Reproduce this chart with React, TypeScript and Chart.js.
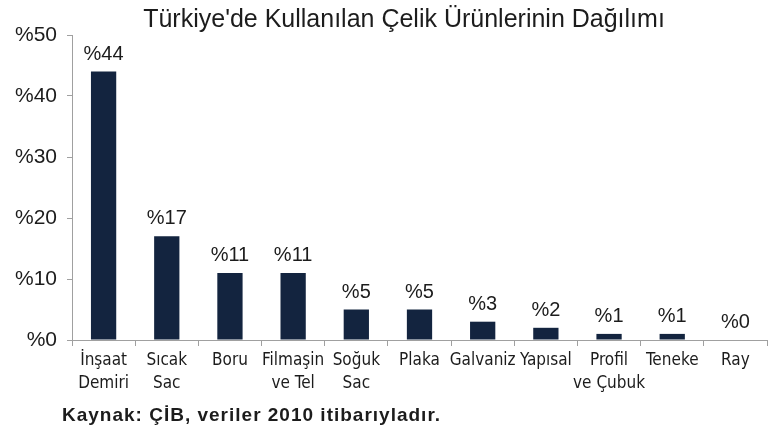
import React, { useEffect, useRef } from "react";
import { Chart, registerables } from "chart.js";

Chart.register(...registerables);

const categories: string[][] = [
  ["İnşaat", "Demiri"],
  ["Sıcak", "Sac"],
  ["Boru"],
  ["Filmaşin", "ve Tel"],
  ["Soğuk", "Sac"],
  ["Plaka"],
  ["Galvaniz"],
  ["Yapısal"],
  ["Profil", "ve Çubuk"],
  ["Teneke"],
  ["Ray"],
];
const shares: number[] = [44, 17, 11, 11, 5, 5, 3, 2, 1, 1, 0];
const shareLabels: string[] = ["%44", "%17", "%11", "%11", "%5", "%5", "%3", "%2", "%1", "%1", "%0"];
const title = "Türkiye'de Kullanılan Çelik Ürünlerinin Dağılımı";
const footer = "Kaynak: ÇİB, veriler 2010 itibarıyladır.";

const BAR = "#13243f";
const TEXT = "#1c1c1c";
const AXIS = "#a0a0a0";

export default function App() {
  const ref = useRef<HTMLCanvasElement | null>(null);
  useEffect(() => {
    document.body.style.margin = "0";
    const canvas = ref.current!;
    const textPlugin = {
      id: "texts",
      afterDatasetsDraw(chart: any) {
        const ctx = chart.ctx;
        ctx.save();
        ctx.fillStyle = TEXT;
        ctx.font = "20px 'Liberation Sans', Arial, sans-serif";
        ctx.textAlign = "center";
        ctx.textBaseline = "alphabetic";
        const meta = chart.getDatasetMeta(0);
        meta.data.forEach((bar: any, i: number) => {
          ctx.fillText(shareLabels[i], bar.x, bar.y - 12);
        });
        ctx.font = "25px 'Liberation Sans', Arial, sans-serif";
        ctx.fillText(title, 404, 27);
        ctx.textAlign = "left";
        ctx.font = "bold 19px 'Liberation Sans', Arial, sans-serif";
        try {
          (ctx as any).letterSpacing = "1px";
        } catch (e) {}
        ctx.fillText(footer, 62, 421);
        ctx.restore();
      },
    };
    const chart = new Chart(canvas, {
      type: "bar",
      data: {
        labels: categories,
        datasets: [
          {
            data: shares,
            backgroundColor: BAR,
            barPercentage: 0.4,
            categoryPercentage: 1,
          },
        ],
      },
      options: {
        animation: false,
        responsive: false,
        layout: { padding: { left: 0, right: 13, top: 35, bottom: 0 } },
        plugins: { legend: { display: false }, tooltip: { enabled: false } },
        scales: {
          x: {
            grid: { drawOnChartArea: false, drawTicks: true, tickLength: 6, color: AXIS, offset: true },
            border: { color: AXIS, width: 1 },
            ticks: {
              color: TEXT,
              padding: 4,
              maxRotation: 0,
              autoSkip: false,
              font: { family: "'Liberation Sans Narrow', 'DejaVu Sans Condensed', sans-serif", size: 17, lineHeight: 1.3 },
            },
            afterFit(scale: any) {
              scale.height = 91;
            },
          },
          y: {
            min: 0,
            max: 50,
            grid: { drawOnChartArea: false, drawTicks: true, tickLength: 5, color: AXIS },
            border: { color: AXIS, width: 1 },
            ticks: {
              stepSize: 10,
              color: TEXT,
              padding: 10,
              font: { family: "'Liberation Sans', Arial, sans-serif", size: 21 },
              callback: (v: any) => "%" + v,
            },
            afterFit(scale: any) {
              scale.width = 72;
            },
          },
        },
      },
      plugins: [textPlugin],
    });
    return () => chart.destroy();
  }, []);
  return <canvas ref={ref} width={780} height={431} style={{ display: "block" }} />;
}
